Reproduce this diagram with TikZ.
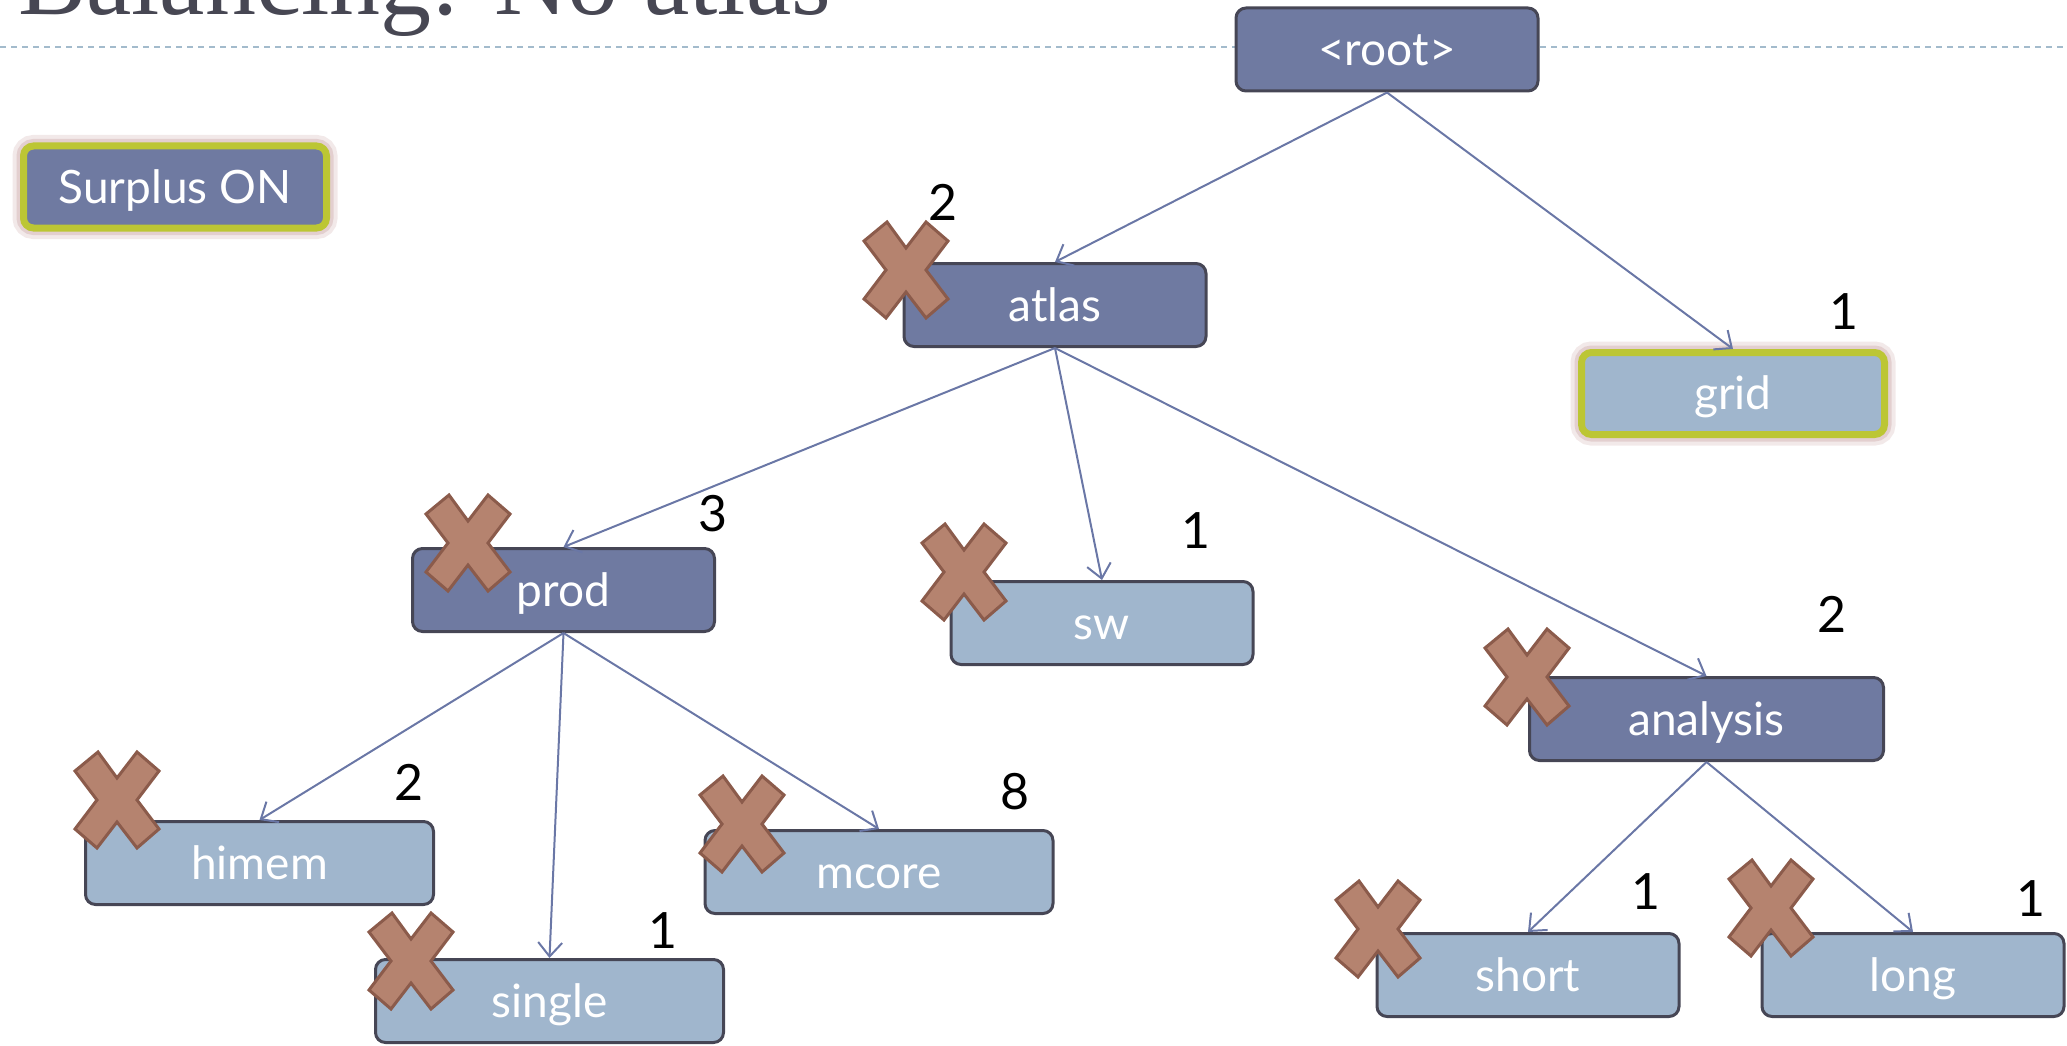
\documentclass[tikz,border=0pt]{standalone}
\usepackage{fontspec}
\setmainfont{Lato}
\newfontfamily\titlefont{Liberation Serif}
\usetikzlibrary{arrows.meta}

\definecolor{dkfill}{HTML}{6F7AA1}
\definecolor{ltfill}{HTML}{A0B6CD}
\definecolor{boxedge}{HTML}{464655}
\definecolor{linkcol}{HTML}{6A77A6}
\definecolor{surplus}{HTML}{BCC634}
\definecolor{glow}{HTML}{E3CFCF}
\definecolor{xfill}{HTML}{B5836F}
\definecolor{xedge}{HTML}{8B5B4B}
\definecolor{rulecol}{HTML}{A3BBCC}
\definecolor{titlegray}{HTML}{474753}

\tikzset{
  box/.style={rectangle, rounded corners=10pt, draw=boxedge, line width=3pt,
    minimum width=302pt, minimum height=83pt, inner sep=0pt, text=white,
    text height=39pt, text depth=7pt, font=\fontsize{46}{54}\selectfont},
  dk/.style={box, fill=dkfill},
  lt/.style={box, fill=ltfill},
  wide/.style={minimum width=348pt},
  on/.style={box, draw=surplus, line width=7pt, minimum width=303pt, minimum height=82pt,
    preaction={draw=glow!45, line width=22pt},
    preaction={draw=glow, line width=14pt}},
  count/.style={font=\fontsize{50}{58}\selectfont, inner sep=0pt},
  link/.style={draw=linkcol, line width=2pt, -{Straight Barb[length=14pt, width=24pt]}},
  xmark/.pic={
    \filldraw[fill=xfill, draw=xedge, line width=3pt, line join=miter]
      (-42,-29) -- (-19,-48) -- (0,-22) -- (20,-48) -- (42,-29) -- (20,0)
      -- (42,29) -- (20,48) -- (0,22) -- (-20,48) -- (-42,29) -- (-20,0) -- cycle;
  }
}

\begin{document}
\begin{tikzpicture}[x=1pt, y=-1pt]
    \useasboundingbox (0,0) rectangle (2067,1046);
    \clip (0,0) rectangle (2067,1046);

    \node[anchor=base west, inner sep=0pt, text=titlegray,
          font=\titlefont\fontsize{102}{110}\selectfont] (title) at (18,15) {Balancing: No atlas};
    \draw[rulecol, line width=1.5pt, dash pattern=on 6pt off 5pt] (0,47) -- (2067,47);

    \node[on, fill=dkfill] (surplus) at (175,187) {Surplus ON};

    \node[dk] (root) at (1387,49.5) {<root>};
    \node[dk] (atlas) at (1055,305) {atlas};
    \node[on, fill=ltfill] (grid) at (1733,393.5) {grid};
    \node[dk] (prod) at (563.5,590) {prod};
    \node[lt] (sw) at (1102,623) {sw};
    \node[dk, minimum width=354pt] (analysis) at (1706.5,719) {analysis};
    \node[lt, wide] (himem) at (259.5,863) {himem};
    \node[lt, wide] (single) at (549.5,1001) {single};
    \node[lt, wide] (mcore) at (879,872) {mcore};
    \node[lt] (short) at (1528,975) {short};
    \node[lt] (long) at (1913,975) {long};

    \draw[link] (root.south) -- (atlas.north);
    \draw[link] (root.south) -- (grid.north);
    \draw[link] (atlas.south) -- (prod.north);
    \draw[link] (atlas.south) -- (sw.north);
    \draw[link] (atlas.south) -- (analysis.north);
    \draw[link] (prod.south) -- (himem.north);
    \draw[link] (prod.south) -- (single.north);
    \draw[link] (prod.south) -- (mcore.north);
    \draw[link] (analysis.south) -- (short.north);
    \draw[link] (analysis.south) -- (long.north);

    \node[count] (n-atlas) at (943,202) {2};
    \node[count] (n-grid) at (1844,312) {1};
    \node[count] (n-prod) at (713,514) {3};
    \node[count] (n-sw) at (1196,531) {1};
    \node[count] (n-analysis) at (1832,614) {2};
    \node[count] (n-himem) at (409,782) {2};
    \node[count] (n-mcore) at (1015,792) {8};
    \node[count] (n-single) at (663,931) {1};
    \node[count] (n-short) at (1646,892) {1};
    \node[count] (n-long) at (2031,899) {1};

    \pic at (906,270) {xmark};
    \pic at (468,543) {xmark};
    \pic at (964,572) {xmark};
    \pic at (1527,677) {xmark};
    \pic at (117,800) {xmark};
    \pic at (411,961) {xmark};
    \pic at (742,824) {xmark};
    \pic at (1378,929) {xmark};
    \pic at (1771,908) {xmark};
\end{tikzpicture}
\end{document}
